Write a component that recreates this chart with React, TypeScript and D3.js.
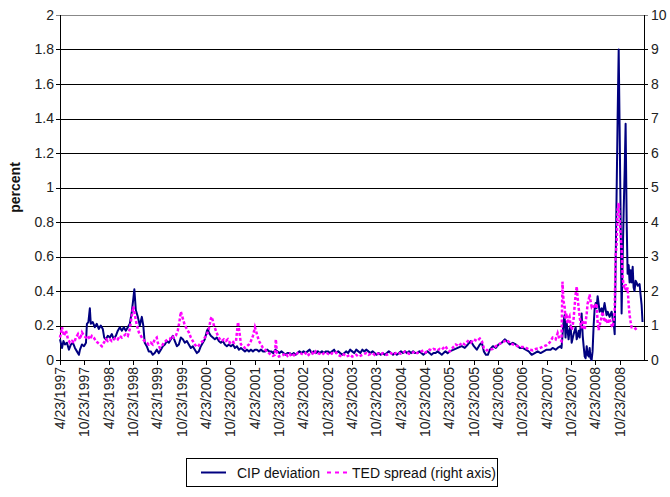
import React from 'react';
import * as d3 from 'd3';

const cipDeviation: [string, number][] = [
  ['1997-04-23', 0.12], ['1997-05-08', 0.07], ['1997-05-19', 0.11], ['1997-05-30', 0.09], ['1997-06-14', 0.10],
  ['1997-06-29', 0.06], ['1997-07-14', 0.09], ['1997-07-29', 0.10], ['1997-08-13', 0.07], ['1997-08-28', 0.05],
  ['1997-09-12', 0.03], ['1997-09-20', 0.06], ['1997-10-05', 0.09], ['1997-10-20', 0.08], ['1997-11-04', 0.10],
  ['1997-11-11', 0.21], ['1997-11-22', 0.22], ['1997-12-03', 0.30], ['1997-12-10', 0.21], ['1997-12-25', 0.22],
  ['1998-01-09', 0.19], ['1998-01-24', 0.21], ['1998-02-08', 0.18], ['1998-02-23', 0.20], ['1998-03-10', 0.18],
  ['1998-03-21', 0.13], ['1998-04-02', 0.12], ['1998-04-17', 0.14], ['1998-05-02', 0.13], ['1998-05-17', 0.15],
  ['1998-06-01', 0.12], ['1998-06-16', 0.14], ['1998-07-01', 0.17], ['1998-07-16', 0.19], ['1998-07-31', 0.17],
  ['1998-08-15', 0.19], ['1998-08-30', 0.17], ['1998-09-14', 0.19], ['1998-09-29', 0.21], ['1998-10-14', 0.28],
  ['1998-10-26', 0.36], ['1998-11-02', 0.41], ['1998-11-13', 0.29], ['1998-11-28', 0.25], ['1998-12-13', 0.20],
  ['1998-12-28', 0.25], ['1999-01-08', 0.20], ['1999-01-19', 0.10], ['1999-02-03', 0.08], ['1999-02-18', 0.05],
  ['1999-03-05', 0.05], ['1999-03-20', 0.03], ['1999-04-04', 0.04], ['1999-04-19', 0.06], ['1999-05-05', 0.04],
  ['1999-05-20', 0.06], ['1999-06-04', 0.08], ['1999-06-19', 0.09], ['1999-07-04', 0.11], ['1999-07-19', 0.10],
  ['1999-08-03', 0.12], ['1999-08-18', 0.14], ['1999-09-02', 0.11], ['1999-09-17', 0.08], ['1999-10-02', 0.09],
  ['1999-10-17', 0.13], ['1999-11-01', 0.12], ['1999-11-16', 0.10], ['1999-12-01', 0.11], ['1999-12-16', 0.09],
  ['1999-12-31', 0.07], ['2000-01-15', 0.08], ['2000-01-30', 0.06], ['2000-02-14', 0.04], ['2000-02-29', 0.05],
  ['2000-03-15', 0.08], ['2000-03-30', 0.10], ['2000-04-14', 0.12], ['2000-04-30', 0.17], ['2000-05-07', 0.18],
  ['2000-05-14', 0.16], ['2000-05-29', 0.14], ['2000-06-13', 0.13], ['2000-06-28', 0.12], ['2000-07-13', 0.13],
  ['2000-07-28', 0.11], ['2000-08-12', 0.10], ['2000-08-27', 0.11], ['2000-09-11', 0.09], ['2000-09-26', 0.08],
  ['2000-10-11', 0.09], ['2000-10-27', 0.08], ['2000-11-11', 0.09], ['2000-11-26', 0.07], ['2000-12-11', 0.08],
  ['2000-12-26', 0.06], ['2001-01-10', 0.07], ['2001-01-25', 0.06], ['2001-02-09', 0.05], ['2001-02-24', 0.06],
  ['2001-03-11', 0.05], ['2001-03-26', 0.06], ['2001-04-10', 0.05], ['2001-04-25', 0.06], ['2001-05-10', 0.06],
  ['2001-05-25', 0.05], ['2001-06-10', 0.06], ['2001-06-25', 0.05], ['2001-07-10', 0.05], ['2001-07-25', 0.06],
  ['2001-08-10', 0.05], ['2001-08-25', 0.05], ['2001-09-10', 0.04], ['2001-09-25', 0.06], ['2001-10-10', 0.05],
  ['2001-10-25', 0.04], ['2001-11-10', 0.05], ['2001-11-25', 0.04], ['2001-12-10', 0.03], ['2001-12-25', 0.04],
  ['2002-01-10', 0.04], ['2002-01-25', 0.03], ['2002-02-10', 0.04], ['2002-02-25', 0.03], ['2002-03-10', 0.04],
  ['2002-03-25', 0.05], ['2002-04-10', 0.04], ['2002-04-25', 0.05], ['2002-05-10', 0.04], ['2002-05-25', 0.05],
  ['2002-06-10', 0.06], ['2002-06-25', 0.04], ['2002-07-10', 0.05], ['2002-07-25', 0.04], ['2002-08-10', 0.05],
  ['2002-08-25', 0.04], ['2002-09-10', 0.05], ['2002-09-25', 0.04], ['2002-10-10', 0.05], ['2002-10-25', 0.05],
  ['2002-11-10', 0.04], ['2002-11-25', 0.05], ['2002-12-10', 0.06], ['2002-12-25', 0.04], ['2003-01-10', 0.05],
  ['2003-01-25', 0.04], ['2003-02-10', 0.03], ['2003-02-25', 0.04], ['2003-03-10', 0.05], ['2003-03-25', 0.04],
  ['2003-04-10', 0.06], ['2003-04-25', 0.05], ['2003-05-10', 0.04], ['2003-05-25', 0.06], ['2003-06-10', 0.05],
  ['2003-06-25', 0.04], ['2003-07-10', 0.06], ['2003-07-25', 0.05], ['2003-08-10', 0.06], ['2003-08-25', 0.05],
  ['2003-09-10', 0.04], ['2003-09-25', 0.05], ['2003-10-10', 0.04], ['2003-10-25', 0.03], ['2003-11-10', 0.04],
  ['2003-11-25', 0.03], ['2003-12-10', 0.04], ['2003-12-25', 0.03], ['2004-01-10', 0.04], ['2004-01-25', 0.05],
  ['2004-02-10', 0.04], ['2004-02-25', 0.03], ['2004-03-10', 0.04], ['2004-03-25', 0.03], ['2004-04-10', 0.04],
  ['2004-04-25', 0.05], ['2004-05-10', 0.04], ['2004-05-25', 0.05], ['2004-06-10', 0.04], ['2004-06-25', 0.05],
  ['2004-07-10', 0.04], ['2004-07-25', 0.05], ['2004-08-10', 0.04], ['2004-08-25', 0.04], ['2004-09-10', 0.05],
  ['2004-09-25', 0.04], ['2004-10-10', 0.03], ['2004-10-25', 0.04], ['2004-11-10', 0.05], ['2004-11-25', 0.04],
  ['2004-12-10', 0.03], ['2004-12-25', 0.04], ['2005-01-10', 0.04], ['2005-01-25', 0.05], ['2005-02-10', 0.04],
  ['2005-02-25', 0.03], ['2005-03-10', 0.04], ['2005-03-25', 0.05], ['2005-04-10', 0.04], ['2005-04-26', 0.05],
  ['2005-05-26', 0.06], ['2005-06-25', 0.07], ['2005-07-25', 0.08], ['2005-08-17', 0.07], ['2005-09-09', 0.09],
  ['2005-10-01', 0.11], ['2005-10-24', 0.08], ['2005-11-15', 0.06], ['2005-12-08', 0.09], ['2005-12-23', 0.10],
  ['2006-01-07', 0.05], ['2006-01-22', 0.03], ['2006-02-06', 0.03], ['2006-02-21', 0.06], ['2006-03-16', 0.08],
  ['2006-04-07', 0.07], ['2006-04-28', 0.09], ['2006-05-21', 0.10], ['2006-06-13', 0.12], ['2006-06-28', 0.11],
  ['2006-07-21', 0.09], ['2006-08-12', 0.10], ['2006-09-04', 0.09], ['2006-10-04', 0.07], ['2006-10-26', 0.07],
  ['2006-11-17', 0.06], ['2006-12-10', 0.05], ['2007-01-01', 0.03], ['2007-01-24', 0.04], ['2007-02-15', 0.05],
  ['2007-03-09', 0.04], ['2007-04-01', 0.05], ['2007-04-23', 0.06], ['2007-05-23', 0.06], ['2007-06-07', 0.07],
  ['2007-06-30', 0.06], ['2007-07-15', 0.07], ['2007-08-06', 0.08], ['2007-08-13', 0.07], ['2007-08-28', 0.22],
  ['2007-09-05', 0.26], ['2007-09-12', 0.13], ['2007-09-20', 0.22], ['2007-10-05', 0.12], ['2007-10-12', 0.17],
  ['2007-10-20', 0.20], ['2007-10-28', 0.10], ['2007-11-12', 0.15], ['2007-11-27', 0.19], ['2007-12-05', 0.12],
  ['2007-12-20', 0.17], ['2007-12-27', 0.13], ['2008-01-04', 0.20], ['2008-01-11', 0.27], ['2008-01-19', 0.14],
  ['2008-01-26', 0.08], ['2008-02-03', 0.02], ['2008-02-10', 0.01], ['2008-02-18', 0.08], ['2008-02-25', 0.03],
  ['2008-03-04', 0.02], ['2008-03-11', 0.07], ['2008-03-18', 0.01], ['2008-03-26', 0.00], ['2008-04-02', 0.05],
  ['2008-04-10', 0.20], ['2008-04-17', 0.29], ['2008-04-25', 0.33], ['2008-05-02', 0.30], ['2008-05-10', 0.37],
  ['2008-05-25', 0.28], ['2008-06-09', 0.30], ['2008-06-16', 0.26], ['2008-07-01', 0.33], ['2008-07-16', 0.26],
  ['2008-07-24', 0.28], ['2008-08-08', 0.25], ['2008-08-23', 0.28], ['2008-08-31', 0.24], ['2008-09-07', 0.22],
  ['2008-09-15', 0.15], ['2008-09-22', 0.55], ['2008-09-30', 1.00], ['2008-10-07', 1.40], ['2008-10-15', 1.80],
  ['2008-10-22', 1.35], ['2008-10-30', 0.80], ['2008-11-06', 0.27], ['2008-11-14', 0.60], ['2008-11-21', 0.85],
  ['2008-11-29', 1.10], ['2008-12-06', 1.37], ['2008-12-14', 0.80], ['2008-12-21', 0.50], ['2008-12-29', 0.55],
  ['2009-01-05', 0.45], ['2009-01-13', 0.52], ['2009-01-20', 0.45], ['2009-01-28', 0.54], ['2009-02-04', 0.42],
  ['2009-02-11', 0.40], ['2009-02-19', 0.46], ['2009-02-26', 0.45], ['2009-03-06', 0.43], ['2009-03-21', 0.44],
  ['2009-03-28', 0.38], ['2009-04-05', 0.32], ['2009-04-12', 0.22],
];

const tedSpread: [string, number][] = [
  ['1997-04-23', 0.65], ['1997-05-08', 0.95], ['1997-05-23', 0.70], ['1997-06-07', 0.85], ['1997-06-22', 0.60],
  ['1997-07-07', 0.50], ['1997-07-22', 0.55], ['1997-08-06', 0.50], ['1997-08-21', 0.65], ['1997-09-05', 0.75],
  ['1997-09-20', 0.60], ['1997-10-05', 0.80], ['1997-10-20', 0.70], ['1997-11-04', 0.65], ['1997-11-19', 0.70],
  ['1997-12-03', 0.60], ['1997-12-18', 0.70], ['1998-01-02', 0.65], ['1998-01-17', 0.55], ['1998-02-01', 0.50],
  ['1998-02-16', 0.45], ['1998-03-03', 0.40], ['1998-03-18', 0.50], ['1998-04-02', 0.60], ['1998-04-17', 0.55],
  ['1998-05-02', 0.60], ['1998-05-17', 0.55], ['1998-06-01', 0.60], ['1998-06-16', 0.65], ['1998-07-01', 0.60],
  ['1998-07-16', 0.70], ['1998-07-31', 0.65], ['1998-08-15', 0.70], ['1998-08-30', 0.75], ['1998-09-14', 0.70],
  ['1998-09-29', 0.90], ['1998-10-14', 1.30], ['1998-10-26', 1.55], ['1998-11-06', 1.30], ['1998-11-21', 1.00],
  ['1998-12-06', 0.80], ['1998-12-21', 0.70], ['1999-01-05', 0.60], ['1999-01-19', 0.55], ['1999-02-03', 0.50],
  ['1999-02-18', 0.45], ['1999-03-05', 0.50], ['1999-03-20', 0.45], ['1999-04-04', 0.60], ['1999-04-19', 0.65],
  ['1999-04-27', 0.50], ['1999-05-12', 0.35], ['1999-05-27', 0.40], ['1999-06-11', 0.50], ['1999-06-26', 0.55],
  ['1999-07-11', 0.60], ['1999-07-26', 0.60], ['1999-08-10', 0.70], ['1999-08-25', 0.65], ['1999-09-09', 0.70],
  ['1999-09-24', 0.85], ['1999-10-06', 1.10], ['1999-10-17', 1.40], ['1999-11-01', 1.20], ['1999-11-16', 1.00],
  ['1999-12-01', 0.90], ['1999-12-16', 0.80], ['1999-12-31', 0.65], ['2000-01-15', 0.55], ['2000-01-30', 0.45],
  ['2000-02-14', 0.38], ['2000-02-29', 0.42], ['2000-03-15', 0.50], ['2000-03-30', 0.55], ['2000-04-14', 0.65],
  ['2000-04-30', 0.75], ['2000-05-14', 0.90], ['2000-05-29', 1.20], ['2000-06-06', 1.25], ['2000-06-21', 1.00],
  ['2000-07-06', 0.85], ['2000-07-21', 0.70], ['2000-08-05', 0.60], ['2000-08-20', 0.55], ['2000-09-04', 0.60],
  ['2000-09-19', 0.55], ['2000-10-04', 0.60], ['2000-10-19', 0.50], ['2000-11-04', 0.55], ['2000-11-19', 0.50],
  ['2000-12-04', 0.55], ['2000-12-19', 1.10], ['2000-12-30', 0.80], ['2001-01-10', 0.45], ['2001-01-25', 0.40],
  ['2001-02-09', 0.35], ['2001-02-24', 0.40], ['2001-03-11', 0.45], ['2001-03-26', 0.55], ['2001-04-10', 0.70],
  ['2001-04-25', 0.95], ['2001-05-10', 0.75], ['2001-05-25', 0.55], ['2001-06-09', 0.45], ['2001-06-24', 0.35],
  ['2001-07-09', 0.30], ['2001-07-24', 0.25], ['2001-08-08', 0.20], ['2001-08-23', 0.15], ['2001-09-07', 0.12],
  ['2001-09-22', 0.15], ['2001-09-29', 0.60], ['2001-10-07', 0.20], ['2001-10-22', 0.10], ['2001-11-06', 0.12],
  ['2001-11-25', 0.15], ['2001-12-10', 0.20], ['2001-12-25', 0.12], ['2002-01-10', 0.18], ['2002-01-25', 0.10],
  ['2002-02-10', 0.15], ['2002-02-25', 0.12], ['2002-03-10', 0.20], ['2002-03-25', 0.22], ['2002-04-10', 0.18],
  ['2002-04-25', 0.15], ['2002-05-10', 0.20], ['2002-05-25', 0.12], ['2002-06-10', 0.18], ['2002-06-25', 0.22],
  ['2002-07-10', 0.15], ['2002-07-25', 0.25], ['2002-08-10', 0.20], ['2002-08-25', 0.18], ['2002-09-10', 0.15],
  ['2002-09-25', 0.20], ['2002-10-10', 0.22], ['2002-10-25', 0.18], ['2002-11-10', 0.15], ['2002-11-25', 0.20],
  ['2002-12-10', 0.18], ['2002-12-25', 0.22], ['2003-01-10', 0.15], ['2003-01-25', 0.12], ['2003-02-10', 0.18],
  ['2003-02-25', 0.15], ['2003-03-10', 0.10], ['2003-03-25', 0.12], ['2003-04-10', 0.15], ['2003-04-25', 0.10],
  ['2003-05-10', 0.12], ['2003-05-25', 0.15], ['2003-06-10', 0.10], ['2003-06-25', 0.12], ['2003-07-10', 0.15],
  ['2003-07-25', 0.18], ['2003-08-10', 0.20], ['2003-08-25', 0.15], ['2003-09-10', 0.18], ['2003-09-25', 0.20],
  ['2003-10-10', 0.15], ['2003-10-25', 0.20], ['2003-11-10', 0.18], ['2003-11-25', 0.15], ['2003-12-10', 0.20],
  ['2003-12-25', 0.18], ['2004-01-10', 0.15], ['2004-01-25', 0.18], ['2004-02-10', 0.20], ['2004-02-25', 0.15],
  ['2004-03-10', 0.18], ['2004-03-25', 0.22], ['2004-04-10', 0.20], ['2004-04-25', 0.18], ['2004-05-10', 0.20],
  ['2004-05-25', 0.25], ['2004-06-10', 0.22], ['2004-06-25', 0.18], ['2004-07-10', 0.20], ['2004-07-25', 0.22],
  ['2004-08-10', 0.25], ['2004-08-25', 0.20], ['2004-09-10', 0.22], ['2004-09-25', 0.25], ['2004-10-10', 0.28],
  ['2004-10-25', 0.22], ['2004-11-10', 0.25], ['2004-11-25', 0.30], ['2004-12-10', 0.28], ['2004-12-25', 0.32],
  ['2005-01-10', 0.30], ['2005-01-25', 0.28], ['2005-02-10', 0.32], ['2005-02-25', 0.30], ['2005-03-10', 0.35],
  ['2005-03-25', 0.40], ['2005-04-10', 0.30], ['2005-04-26', 0.25], ['2005-05-18', 0.35], ['2005-06-10', 0.45],
  ['2005-07-03', 0.40], ['2005-07-25', 0.50], ['2005-08-17', 0.45], ['2005-09-09', 0.55], ['2005-10-01', 0.50],
  ['2005-10-24', 0.60], ['2005-11-15', 0.55], ['2005-12-08', 0.62], ['2005-12-23', 0.55], ['2006-01-07', 0.35],
  ['2006-01-29', 0.28], ['2006-02-21', 0.30], ['2006-03-16', 0.32], ['2006-04-07', 0.40], ['2006-04-28', 0.45],
  ['2006-05-21', 0.50], ['2006-06-13', 0.55], ['2006-06-28', 0.58], ['2006-07-21', 0.50], ['2006-08-12', 0.45],
  ['2006-09-04', 0.42], ['2006-10-04', 0.38], ['2006-10-26', 0.38], ['2006-11-25', 0.34], ['2006-12-17', 0.30],
  ['2007-01-09', 0.28], ['2007-01-31', 0.32], ['2007-03-02', 0.34], ['2007-03-24', 0.38], ['2007-04-23', 0.43],
  ['2007-05-15', 0.50], ['2007-06-07', 0.65], ['2007-06-30', 0.60], ['2007-07-15', 0.78], ['2007-07-30', 0.60],
  ['2007-08-13', 0.55], ['2007-08-20', 2.27], ['2007-08-28', 1.70], ['2007-09-05', 1.55], ['2007-09-12', 1.20],
  ['2007-09-20', 1.35], ['2007-09-27', 1.05], ['2007-10-05', 1.20], ['2007-10-12', 1.26], ['2007-10-20', 1.00],
  ['2007-10-28', 0.87], ['2007-11-04', 0.97], ['2007-11-12', 1.20], ['2007-11-19', 1.55], ['2007-11-27', 1.90],
  ['2007-12-05', 2.13], ['2007-12-12', 1.80], ['2007-12-20', 1.50], ['2007-12-27', 1.26], ['2008-01-04', 1.05],
  ['2008-01-11', 0.92], ['2008-01-19', 1.16], ['2008-01-26', 1.00], ['2008-02-03', 0.87], ['2008-02-10', 1.10],
  ['2008-02-18', 1.35], ['2008-02-25', 1.64], ['2008-03-04', 1.75], ['2008-03-11', 1.90], ['2008-03-18', 1.70],
  ['2008-03-26', 1.55], ['2008-04-02', 1.60], ['2008-04-17', 1.50], ['2008-05-02', 1.64], ['2008-05-10', 1.10],
  ['2008-05-17', 0.87], ['2008-05-25', 1.00], ['2008-06-09', 1.25], ['2008-06-16', 1.40], ['2008-07-01', 1.10],
  ['2008-07-16', 1.20], ['2008-07-24', 1.05], ['2008-08-08', 1.20], ['2008-08-23', 1.00], ['2008-08-31', 0.95],
  ['2008-09-15', 1.40], ['2008-09-22', 3.00], ['2008-09-30', 3.40], ['2008-10-07', 4.35], ['2008-10-15', 4.55],
  ['2008-10-22', 4.10], ['2008-10-30', 3.60], ['2008-11-06', 3.20], ['2008-11-14', 2.40], ['2008-11-21', 2.15],
  ['2008-11-29', 2.10], ['2008-12-06', 2.20], ['2008-12-14', 2.00], ['2008-12-21', 2.10], ['2008-12-29', 1.60],
  ['2009-01-05', 1.30], ['2009-01-13', 1.10], ['2009-01-20', 0.95], ['2009-02-04', 0.95], ['2009-02-19', 0.90],
  ['2009-03-06', 0.95],
];

const xTickLabels = [
  '4/23/1997', '10/23/1997', '4/23/1998', '10/23/1998', '4/23/1999', '10/23/1999',
  '4/23/2000', '10/23/2000', '4/23/2001', '10/23/2001', '4/23/2002', '10/23/2002',
  '4/23/2003', '10/23/2003', '4/23/2004', '10/23/2004', '4/23/2005', '10/23/2005',
  '4/23/2006', '10/23/2006', '4/23/2007', '10/23/2007', '4/23/2008', '10/23/2008',
];
const leftTicks = [0, 0.2, 0.4, 0.6, 0.8, 1, 1.2, 1.4, 1.6, 1.8, 2];
const rightTicks = [0, 1, 2, 3, 4, 5, 6, 7, 8, 9, 10];
const xDomain = ['1997-04-23', '2009-04-23'];
const seriesNames = ['CIP deviation', 'TED spread (right axis)'];

const FONT = '"Liberation Sans", Arial, sans-serif';
const LEFT = 60;
const RIGHT = 644;
const TOP = 15;
const BOTTOM = 360;

export default function App() {
  const parse = d3.timeParse('%Y-%m-%d');
  const parseTick = d3.timeParse('%m/%d/%Y');
  const x = d3.scaleTime().domain(xDomain.map((d) => parse(d) as Date)).range([LEFT, RIGHT]);
  const yL = d3.scaleLinear().domain([0, 2]).range([BOTTOM, TOP]);
  const yR = d3.scaleLinear().domain([0, 10]).range([BOTTOM, TOP]);
  const cipLine = d3
    .line<[string, number]>()
    .x((d) => x(parse(d[0]) as Date))
    .y((d) => yL(d[1]));
  const tedLine = d3
    .line<[string, number]>()
    .x((d) => x(parse(d[0]) as Date))
    .y((d) => yR(d[1]));

  return (
    <svg
      width={670}
      height={497}
      style={{ position: 'absolute', left: 0, top: 0, background: '#fff' }}
      fontFamily={FONT}
    >
      <rect x={0} y={0} width={670} height={497} fill="#fff" />
      {leftTicks.map((t) => (
        <g key={'l' + t}>
          <line
            x1={LEFT - 4}
            x2={RIGHT + 4}
            y1={Math.round(yL(t)) + 0.5}
            y2={Math.round(yL(t)) + 0.5}
            stroke={t === 2 ? '#888' : '#000'}
            strokeWidth={1}
          />
          <text x={LEFT - 6} y={yL(t)} dy="0.35em" textAnchor="end" fontSize={14} fill="#222">
            {String(t)}
          </text>
        </g>
      ))}
      {rightTicks.map((t) => (
        <text key={'r' + t} x={RIGHT + 7} y={yR(t)} dy="0.35em" textAnchor="start" fontSize={14} fill="#222">
          {String(t)}
        </text>
      ))}
      <line x1={LEFT + 0.5} x2={LEFT + 0.5} y1={TOP} y2={BOTTOM} stroke="#000" />
      <line x1={RIGHT + 0.5} x2={RIGHT + 0.5} y1={TOP} y2={BOTTOM} stroke="#000" />
      {xTickLabels.map((lab) => {
        const xx = Math.round(x(parseTick(lab) as Date)) + 0.5;
        return (
          <g key={lab}>
            <line x1={xx} x2={xx} y1={BOTTOM} y2={BOTTOM + 5} stroke="#000" />
            <text
              transform={`translate(${xx},${BOTTOM + 7}) rotate(-90)`}
              dy="0.35em"
              textAnchor="end"
              fontSize={14}
              fill="#222"
            >
              {lab}
            </text>
          </g>
        );
      })}
      <text
        transform={`translate(20,${(TOP + BOTTOM) / 2}) rotate(-90)`}
        textAnchor="middle"
        fontSize={14}
        fontWeight="bold"
        fill="#111"
      >
        percent
      </text>
      <path d={cipLine(cipDeviation) || ''} fill="none" stroke="#000080" strokeWidth={2} strokeLinejoin="round" />
      <path
        d={tedLine(tedSpread) || ''}
        fill="none"
        stroke="#ff00ff"
        strokeWidth={2.5}
        strokeDasharray="3,2"
      />
      <g>
        <rect x={186.5} y={458.5} width={311} height={28} fill="#fff" stroke="#000" />
        <line x1={201} x2={226} y1={472.5} y2={472.5} stroke="#000080" strokeWidth={2} />
        <text x={237} y={477.5} fontSize={14} fill="#111">
          {seriesNames[0]}
        </text>
        <line x1={327} x2={347} y1={472.5} y2={472.5} stroke="#ff00ff" strokeWidth={2} strokeDasharray="4,4" />
        <text x={352} y={477.5} fontSize={14} fill="#111">
          {seriesNames[1]}
        </text>
      </g>
    </svg>
  );
}
